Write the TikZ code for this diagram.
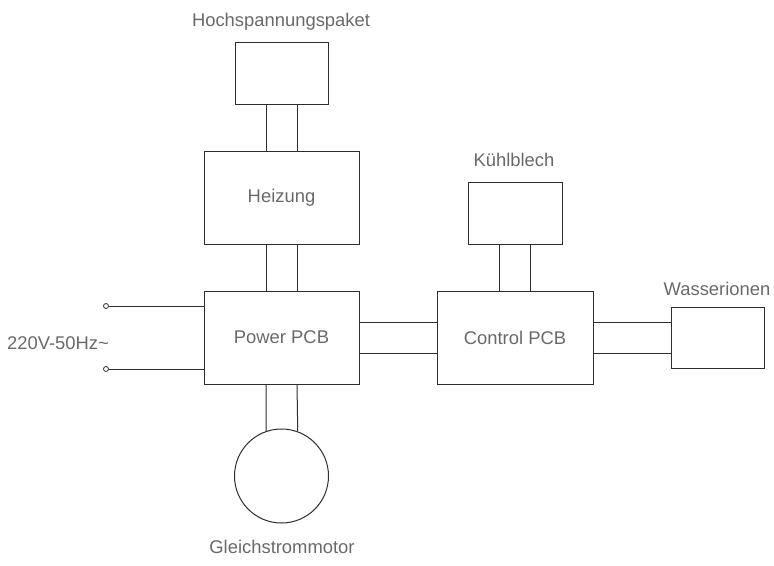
\documentclass[tikz,border=0pt]{standalone}
\usepackage{fontspec}
\setmainfont{Liberation Sans}
\usetikzlibrary{calc}

\definecolor{linegray}{RGB}{45,45,45}
\definecolor{textgray}{RGB}{105,105,105}

\tikzset{every picture/.style={line width=0.75pt}}
\tikzset{
	blk/.style={draw=linegray, inner sep=0pt, text=textgray},
	lbl/.style={text=textgray, inner sep=0pt},
	wire/.style={draw=linegray},
	term/.style={circle, draw=linegray, fill=white, line width=0.6pt, inner sep=0pt, minimum size=5*0.75pt}
}

\begin{document}
\begin{tikzpicture}[x=0.75pt,y=0.75pt,yscale=-1,xscale=1,
	every node/.append style={font=\fontsize{13.8}{16.5}\selectfont}]
	\useasboundingbox (0,0) rectangle (774,565);

	% Blocks
	\node [blk, minimum width=93*0.75pt, minimum height=62*0.75pt] (hv) at (281.5,73) {};
	\node [blk, minimum width=155*0.75pt, minimum height=93*0.75pt] (heiz) at (281.5,197.5) {Heizung};
	\node [blk, minimum width=155*0.75pt, minimum height=93*0.75pt] (power) at (281.5,337.5) {Power PCB};
	\node [blk, minimum width=156*0.75pt, minimum height=93*0.75pt] (ctrl) at (515,337.5) {Control PCB};
	\node [blk, minimum width=94*0.75pt, minimum height=62*0.75pt] (kuehl) at (515,213) {};
	\node [blk, minimum width=93*0.75pt, minimum height=61*0.75pt] (wasser) at (717.5,337.5) {};
	%Shape: Circle
	\node [blk, circle, minimum size=94*0.75pt] (motor) at (281.5,476) {};
	% Terminals
	\node [term] (tin1) at (106,306) {};
	\node [term] (tin2) at (106,369) {};

	% Text Node
	\node [lbl] (hvlabel) at (281,22) {Hochspannungspaket};
	% Text Node
	\node [lbl] (kuehllabel) at (514,160) {Kühlblech};
	% Text Node
	\node [lbl] (wasserlabel) at (717,289) {Wasserionen};
	% Text Node
	\node [lbl] (motorlabel) at (282,547) {Gleichstrommotor};
	% Text Node
	\node [lbl] (netzlabel) at (58,343) {220V-50Hz\textasciitilde};

	% Double lines
	\draw [wire] ($(hv.south)+(-15.5,0)$) -- ($(heiz.north)+(-15.5,0)$);
	\draw [wire] ($(hv.south)+(15.5,0)$) -- ($(heiz.north)+(15.5,0)$);
	\draw [wire] ($(heiz.south)+(-15.5,0)$) -- ($(power.north)+(-15.5,0)$);
	\draw [wire] ($(heiz.south)+(15.5,0)$) -- ($(power.north)+(15.5,0)$);
	\draw [wire] ($(kuehl.south)+(-15.5,0)$) -- ($(ctrl.north)+(-15.5,0)$);
	\draw [wire] ($(kuehl.south)+(15.5,0)$) -- ($(ctrl.north)+(15.5,0)$);
	\draw [wire] ($(power.east)+(0,-15.5)$) -- ($(ctrl.west)+(0,-15.5)$);
	\draw [wire] ($(power.east)+(0,15.5)$) -- ($(ctrl.west)+(0,15.5)$);
	\draw [wire] ($(ctrl.east)+(0,-15.5)$) -- ($(wasser.west)+(0,-15.5)$);
	\draw [wire] ($(ctrl.east)+(0,15.5)$) -- ($(wasser.west)+(0,15.5)$);
	\draw [wire] ($(power.south)+(-15.5,0)$) -- (motor.109.26);
	\draw [wire] ($(power.south)+(15.5,0)$) -- (motor.70.74);
	% Mains
	\draw [wire] (tin1) -- (tin1 -| power.west);
	\draw [wire] (tin2) -- (tin2 -| power.west);

\end{tikzpicture}
\end{document}
